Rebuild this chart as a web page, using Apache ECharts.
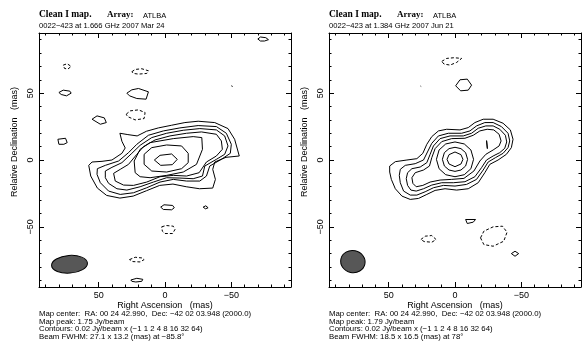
<!DOCTYPE html>
<html>
<head>
<meta charset="utf-8">
<script src="https://cdn.jsdelivr.net/npm/echarts@6/dist/echarts.min.js"></script>
<style>
  html, body { margin: 0; padding: 0; background: #fff; }
  #container { width: 585px; height: 352px; }
</style>
</head>
<body>
<div id="container"></div>
<script>
// contour rings, in mas (x = relative RA, y = relative Dec)
// left map: 1.666 GHz, 2007 Mar 24
var leftSolid = [
    [[57.5,-4],[55,-1.5],[47.5,-1],[40,0],[32.5,5],[30,9],[32.5,14],[34,20],[28,19],[21,18],[14,21.5],[5,24],[-5,26],[-15,28],[-25,29],[-37.5,28],[-47.5,23.5],[-52.5,15.5],[-56,3],[-46,2],[-37.5,-1.5],[-36,-7],[-38,-14.5],[-36,-21],[-26,-21.5],[-16,-20],[-6,-18],[4,-19],[14,-23],[24,-27],[34,-28.5],[44,-26.5],[51,-21],[56,-12]],
    [[51,-6.5],[45,-4],[35,-0.75],[27.5,5.5],[21.25,11.75],[12.5,18.5],[1.25,21.75],[-11.25,24],[-25,25.75],[-38.75,25],[-46.25,20],[-50,11.75],[-49.25,5],[-42.5,0.5],[-33.75,-4.5],[-31.25,-12],[-26.25,-15.75],[-16.25,-15.75],[-6.25,-14.5],[3.75,-16.5],[13.75,-20.75],[23.75,-24.5],[33.75,-25.75],[42.5,-23.25],[48.75,-17],[51.25,-10.75]],
    [[45,-8.25],[40,-5.5],[32.5,-2],[25,5],[18.75,11],[10,16.75],[-1.25,20],[-13.75,22.25],[-26.25,23.5],[-38.75,22.5],[-45,18],[-47.5,10.5],[-45,4.25],[-38.75,0.5],[-30,-4.5],[-28.25,-12],[-21.25,-14],[-11.25,-13.5],[-1.25,-13.25],[8.75,-16.5],[18.75,-20],[28.75,-22.5],[36.25,-21.5],[42.5,-17.5],[45,-13.25]],
    [[38.75,-10],[33.75,-7],[27.5,-3.25],[21.25,4.25],[16.25,10],[7.5,15],[-3.75,18],[-16.25,20],[-27.5,21],[-38.75,19.25],[-42.5,14.25],[-43.25,8],[-38.75,3],[-31.25,-1.5],[-25.75,-9.5],[-16.25,-12],[-6.25,-11.5],[3.75,-12.5],[13.75,-16.5],[23.75,-19],[31.25,-18.75],[37.5,-15.75]],
    [[22.5,-9.5],[23.25,-0.75],[18.75,8],[11.25,13],[-6.25,16],[-21.25,17.5],[-27.75,16.75],[-28.25,8],[-23.75,-3.25],[-13.75,-9],[-1.25,-11.5],[11.25,-13.25],[18.75,-12.5]],
    [[15.75,-3.25],[15.75,4.25],[10,9.25],[-1.25,11.25],[-12.5,10.5],[-17.5,5],[-17.5,-2],[-12.5,-6.5],[-1.25,-9],[10,-8.25]],
    [[8,0],[3.75,3.5],[-5,4.5],[-9.25,0.5],[-5.5,-3.5],[3.25,-4]],
    [[-70,90.5],[-72,92],[-76,91.5],[-78,90],[-75,89],[-72,89]],
    [[80,50.5],[76.75,52.25],[71.75,51.5],[70.75,50],[74.25,48],[78.25,49]],
    [[28.75,50],[25,52.5],[20,53.5],[12.5,51],[14.25,45.5],[21.25,46],[26.75,48]],
    [[55,30.5],[51.25,33],[45.75,31.5],[44.25,28],[48.75,26.75]],
    [[80.75,15.5],[75,16.25],[73.75,13],[76.25,11.75],[80,11.75]],
    [[-50,55.5],[-51,56],[-51,55]],
    [[3.25,-35.25],[0.75,-33.5],[-5.75,-34],[-7,-35.75],[-5,-37.25],[1.25,-37]],
    [[-28.75,-35.25],[-30.75,-34.25],[-32.5,-35.75],[-30.5,-36.5]],
    [[25.75,-89.75],[21.25,-88.5],[16.75,-89.25],[17.5,-90.75],[22,-91.25],[25,-90.75]]
];
var leftDashed = [
    [[76.75,71],[73.75,72],[70.75,70],[73.25,68],[75.75,68.5]],
    [[25,66],[22.5,67.75],[17.5,68.25],[12.5,66.75],[13.75,64.75],[20,64.25],[23.75,64.75]],
    [[29.25,34.25],[26.25,36.75],[20,37.5],[15,35.5],[15.75,31],[22.5,30],[28.25,32.5]],
    [[2.5,-50],[-0.75,-49],[-6.25,-49.5],[-7.5,-52],[-5.75,-55],[0,-55],[2,-53.25]],
    [[26.75,-74.5],[22.5,-72.75],[17.5,-73.25],[15.75,-74.5],[18.75,-76.25],[24.25,-76]]
];

// right map: 1.384 GHz, 2007 Jun 21
var rightSolid = [
    [[49.25,-4.5],[45,-1.25],[36.25,0],[28.75,1],[24.25,5],[21.25,11.75],[17.5,17.5],[12.5,21.75],[6.25,23],[-3.75,22.5],[-10,24.25],[-15,28],[-21.25,30.5],[-28.75,30.5],[-36.25,27.5],[-41.75,22.5],[-43.75,15.5],[-42.5,9.25],[-38.75,4.25],[-32.5,0],[-26.25,-3.25],[-22.5,-9.5],[-17.5,-17],[-10,-21.5],[-1.25,-22.5],[7.5,-21.5],[15,-22.75],[21.25,-25.75],[27.5,-28.75],[33.75,-29.5],[40,-27],[45,-21.5],[48,-14.5],[49.25,-9]],
    [[41.25,-7],[37.5,-4],[30,-2.75],[23.75,0],[20.75,6],[17.5,12.5],[12.5,18],[5,20],[-5,20],[-11.25,21.75],[-16.25,25.5],[-22.5,28],[-28.75,28],[-35,25],[-40,20],[-41.25,14.25],[-40,9.25],[-36.25,5],[-30.5,1.75],[-25,-1.5],[-21.25,-7.5],[-16.25,-14.5],[-8.75,-18.25],[0,-19.5],[8.75,-19],[16.25,-20.75],[22.5,-23.75],[28.75,-26.25],[33.75,-26.25],[38.75,-23.25],[41.25,-17],[42,-11.5]],
    [[35.75,-9.5],[32.5,-6.5],[26.25,-5.25],[21.25,-2],[18.75,4.25],[16.25,10.5],[11.25,16],[3.75,18],[-6.25,18],[-12.5,20],[-17.5,23.75],[-23.25,25.5],[-28.75,25.5],[-33.75,23],[-38,18.5],[-39,13.5],[-37.5,8.75],[-33.75,5.5],[-28.75,3],[-23.75,0],[-20,-5.75],[-15,-12.5],[-7.5,-16.25],[1.25,-17],[10,-17],[17.5,-18.75],[23.75,-21.5],[29.25,-23.25],[33.25,-22.5],[35.75,-19],[36.75,-14]],
    [[32.5,-13.25],[30,-9.5],[23.75,-7.5],[19.25,-4.5],[17.5,1.75],[15,8.5],[10,13.75],[2.5,16],[-7.5,16.25],[-13.75,18.5],[-18.75,21.75],[-24.25,23],[-29.25,22.5],[-33.25,19.25],[-34.75,14.25],[-33.25,10.5],[-28.75,7.5],[-23.25,4.25],[-18.75,-0.75],[-14.25,-8.25],[-6.75,-13.75],[2.5,-14.5],[11.25,-15],[18.75,-16.5],[24.25,-19],[29.25,-20],[31.75,-17.5]],
    [[14,0.5],[12,7.5],[7,12],[0,13.5],[-7,12],[-12,7.5],[-14,0.5],[-12,-6.5],[-7,-11],[0,-12.5],[7,-11],[12,-6.5]],
    [[9.5,0.5],[8,5.5],[4.5,8.5],[0,9.5],[-4.5,8.5],[-8,5.5],[-9.5,0.5],[-8,-4.5],[-4.5,-7.5],[0,-8.5],[4.5,-7.5],[8,-4.5]],
    [[6,0.5],[4.5,4],[0,6],[-4.5,4],[-6,0.5],[-4.5,-3],[0,-5],[4.5,-3]],
    [[-23.8,14.5],[-24.4,14.5],[-24.4,8.5],[-23.8,8.5]],
    [[-0.5,55.5],[-3.75,60],[-9.25,60.5],[-12.5,56],[-10,52.25],[-4.25,51.75]],
    [[25.5,55],[26,55.3],[26,54.7]],
    [[-8,-44.5],[-15.5,-44.5],[-13.75,-46.5],[-9.25,-47.5]],
    [[-42.5,-70],[-45.25,-68.25],[-48,-70],[-45.25,-72]]
];
var rightDashed = [
    [[10,73.75],[6.25,76],[0.75,76.5],[-5,76],[-1.25,73],[3.75,71],[8.25,71.75]],
    [[-19.25,-58.25],[-21.75,-53.25],[-28.75,-50],[-35.75,-49.5],[-39.25,-54],[-36.75,-60.75],[-28.75,-64.5],[-21.75,-63.25]],
    [[25.75,-59.5],[22.5,-57],[17.5,-56.5],[14.25,-59.5],[17.5,-61.5],[23.25,-61]]
];

// restoring beam: [x, y, major, minor, PA(deg)]
var leftBeam = [72, -78, 27.1, 13.2, -85.8];
var rightBeam = [77, -76, 18.5, 16.5, 78];

var titles = ['0022\u2212423 at 1.666 GHz 2007 Mar 24', '0022\u2212423 at 1.384 GHz 2007 Jun 21'];
var notes = [
    ['Map center:  RA: 00 24 42.990,  Dec: \u221242 02 03.948 (2000.0)',
     'Map peak: 1.75 Jy/beam',
     'Contours: 0.02 Jy/beam x (\u22121 1 2 4 8 16 32 64)',
     'Beam FWHM: 27.1 x 13.2 (mas) at \u221285.8\u00b0'],
    ['Map center:  RA: 00 24 42.990,  Dec: \u221242 02 03.948 (2000.0)',
     'Map peak: 1.79 Jy/beam',
     'Contours: 0.02 Jy/beam x (\u22121 1 2 4 8 16 32 64)',
     'Beam FWHM: 18.5 x 16.5 (mas) at 78\u00b0']
];

var sans = '"Liberation Sans", Arial, sans-serif';
var serif = '"Liberation Serif", "Times New Roman", serif';
var panelLeft = [39, 329];

function minus(v) {
    return v < 0 ? '\u2212' + (-v) : String(v);
}

function makeAxis(dim, grid, position, labels) {
    var ax = {
        type: 'value',
        gridIndex: grid,
        position: position,
        min: -95,
        max: 95,
        splitNumber: 4,
        inverse: dim === 'x',
        axisLine: { show: true, onZero: false, lineStyle: { color: '#000', width: 1 } },
        axisTick: { show: true, inside: true, length: 5, lineStyle: { color: '#000', width: 1 } },
        minorTick: { show: true, splitNumber: 5, length: 2.5, lineStyle: { color: '#000', width: 1 } },
        splitLine: { show: false },
        axisLabel: {
            show: labels,
            color: '#000',
            fontFamily: sans,
            fontSize: 9,
            margin: 4,
            showMinLabel: false,
            showMaxLabel: false,
            formatter: minus
        }
    };
    if (dim === 'y') ax.axisLabel.rotate = 90;
    return ax;
}

function ringSeries(rings, grid, dashed) {
    return rings.map(function (r) {
        return {
            type: 'line',
            xAxisIndex: grid * 2,
            yAxisIndex: grid * 2,
            data: r.concat([r[0]]),
            symbol: 'none',
            silent: true,
            animation: false,
            lineStyle: { color: '#000', width: 1, type: dashed ? [3, 2] : 'solid' },
            z: 3
        };
    });
}

function beamSeries(beam, grid) {
    return {
        type: 'custom',
        xAxisIndex: grid * 2,
        yAxisIndex: grid * 2,
        data: [beam],
        silent: true,
        animation: false,
        z: 4,
        renderItem: function (params, api) {
            var c = api.coord([api.value(0), api.value(1)]);
            var s = api.size([api.value(2), api.value(3)]);
            var pa = api.value(4) * Math.PI / 180;
            return {
                type: 'ellipse',
                x: c[0],
                y: c[1],
                rotation: Math.atan2(Math.cos(pa), -Math.sin(pa)),
                shape: { cx: 0, cy: 0, rx: Math.abs(s[0]) / 2, ry: Math.abs(s[1]) / 2 },
                style: { fill: '#575757', stroke: '#000', lineWidth: 1 }
            };
        }
    };
}

function text(str, x, y, font, size, weight, extra) {
    var t = {
        type: 'text',
        x: x,
        y: y,
        silent: true,
        style: {
            text: str,
            fill: '#000',
            fontFamily: font,
            fontSize: size,
            fontWeight: weight || 'normal',
            textAlign: 'left',
            textVerticalAlign: 'middle'
        }
    };
    if (extra) {
        if (extra.align) t.style.textAlign = extra.align;
        if (extra.rotation) t.rotation = extra.rotation;
    }
    return t;
}

var graphics = [];
for (var p = 0; p < 2; p++) {
    var x0 = panelLeft[p];
    graphics.push(text('Clean I map.', x0, 15, serif, 9.5, 'bold'));
    graphics.push(text('Array:', x0 + 68, 15, serif, 9, 'bold'));
    graphics.push(text('ATLBA', x0 + 104, 15.5, sans, 7.5));
    graphics.push(text(titles[p], x0, 25.5, sans, 7.6));
    graphics.push(text('Right Ascension   (mas)', x0 + 126, 306, sans, 9, 'normal', { align: 'center' }));
    graphics.push(text('Relative Declination   (mas)', x0 - 24, 142, sans, 9, 'normal', { align: 'center', rotation: Math.PI / 2 }));
    var ys = [314.3, 321.7, 329, 336.7];
    for (var i = 0; i < 4; i++) {
        graphics.push(text(notes[p][i], x0, ys[i], sans, 7.8));
    }
}

var dom = document.getElementById('container');
var myChart = echarts.init(dom, null, { renderer: 'canvas' });

var option = {
    animation: false,
    backgroundColor: '#fff',
    grid: [
        { left: 39, top: 33, width: 252, height: 254 },
        { left: 329, top: 33, width: 252, height: 254 }
    ],
    xAxis: [
        makeAxis('x', 0, 'bottom', true),
        makeAxis('x', 0, 'top', false),
        makeAxis('x', 1, 'bottom', true),
        makeAxis('x', 1, 'top', false)
    ],
    yAxis: [
        makeAxis('y', 0, 'left', true),
        makeAxis('y', 0, 'right', false),
        makeAxis('y', 1, 'left', true),
        makeAxis('y', 1, 'right', false)
    ],
    graphic: graphics,
    series: [].concat(
        ringSeries(leftSolid, 0, false),
        ringSeries(leftDashed, 0, true),
        ringSeries(rightSolid, 1, false),
        ringSeries(rightDashed, 1, true),
        [beamSeries(leftBeam, 0), beamSeries(rightBeam, 1)]
    )
};

myChart.setOption(option);
window.addEventListener('resize', myChart.resize);
</script>
</body>
</html>
